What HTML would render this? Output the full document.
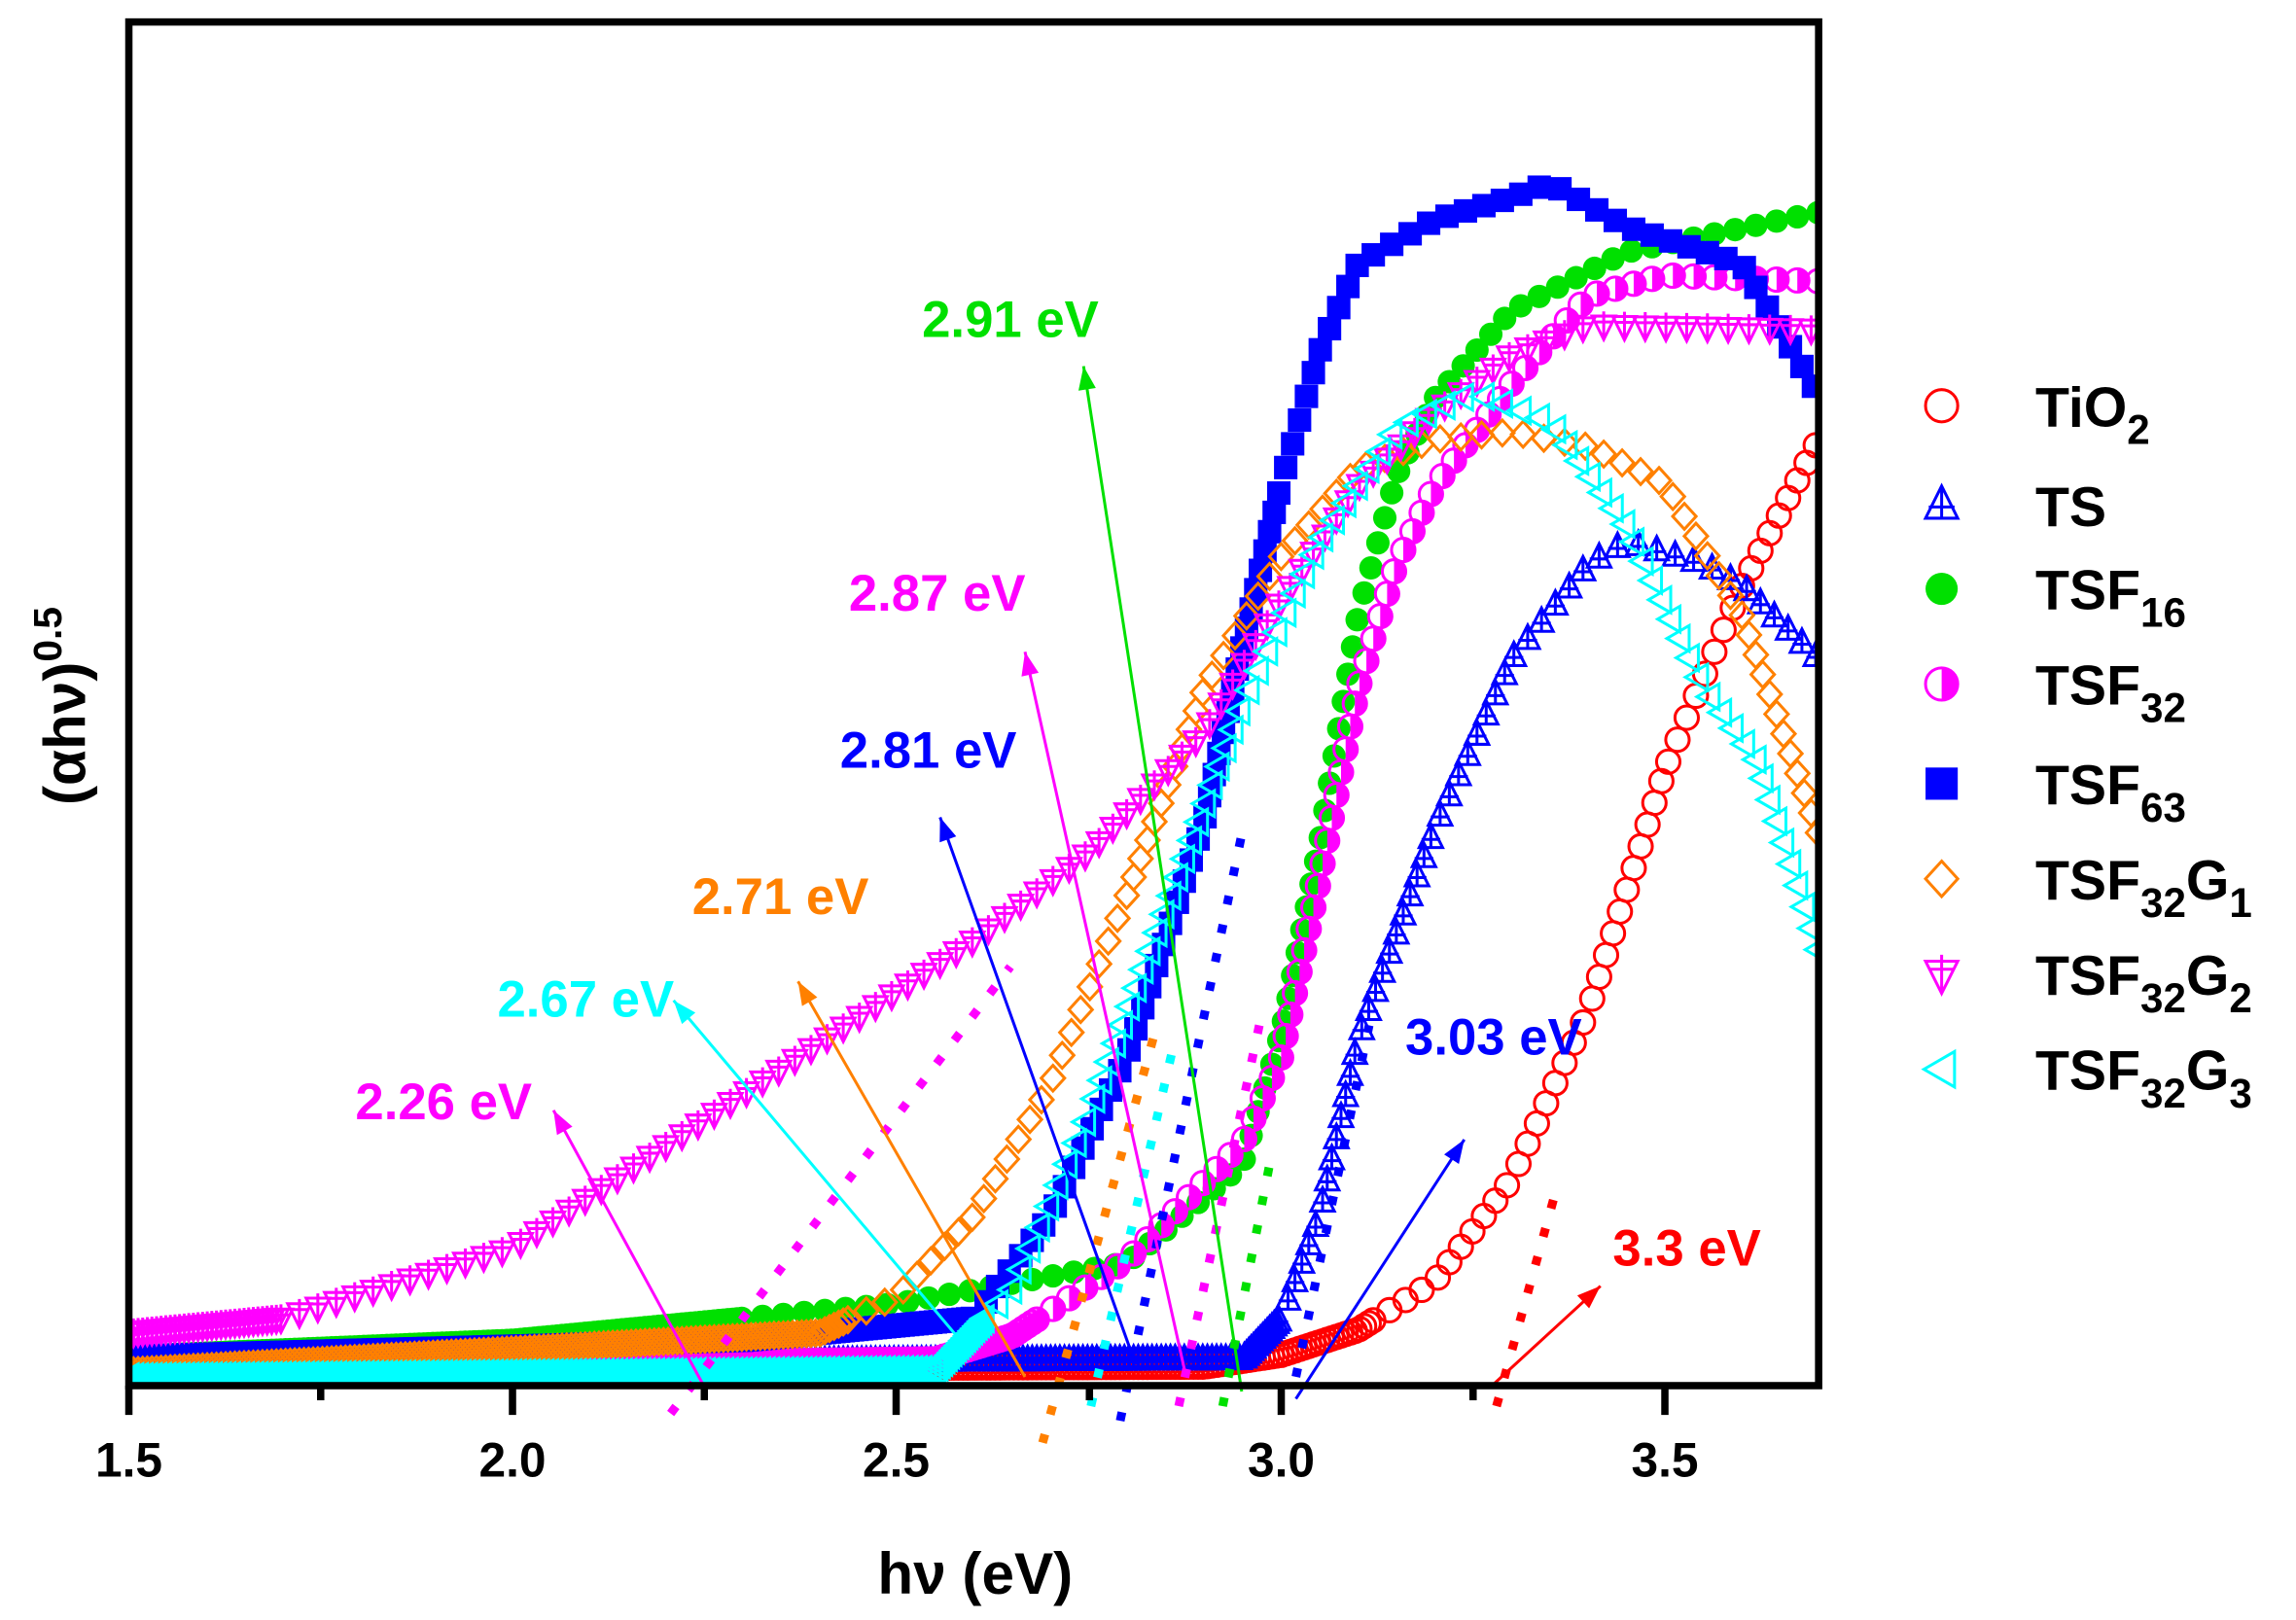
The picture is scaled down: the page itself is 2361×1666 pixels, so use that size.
<!DOCTYPE html>
<html><head><meta charset="utf-8"><style>
html,body{margin:0;padding:0;background:#fff;}
svg{display:block;font-family:"Liberation Sans",sans-serif;font-weight:bold;}
</style></head><body>
<svg id="s" width="2361" height="1666" viewBox="0 0 1568 1106" preserveAspectRatio="none" xmlns="http://www.w3.org/2000/svg">
<defs>
<clipPath id="c"><rect x="88" y="15" width="1154" height="931"/></clipPath>
</defs>
<g id="data" clip-path="url(#c)"></g>
<g id="ann"></g>
<rect x="88" y="15" width="1154" height="931" fill="none" stroke="#000" stroke-width="5"/>
<g stroke="#000" stroke-width="5">
<line x1="88" y1="946" x2="88" y2="966"/><line x1="350" y1="946" x2="350" y2="966"/><line x1="612" y1="946" x2="612" y2="966"/><line x1="875" y1="946" x2="875" y2="966"/><line x1="1137" y1="946" x2="1137" y2="966"/>
<line x1="219" y1="946" x2="219" y2="956"/><line x1="481" y1="946" x2="481" y2="956"/><line x1="744" y1="946" x2="744" y2="956"/><line x1="1006" y1="946" x2="1006" y2="956"/>
</g>
<g font-size="33" text-anchor="middle" fill="#000">
<text x="88" y="1008">1.5</text><text x="350" y="1008">2.0</text><text x="612" y="1008">2.5</text><text x="875" y="1008">3.0</text><text x="1137" y="1008">3.5</text>
</g>
<text x="666" y="1088" font-size="40" text-anchor="middle">hν (eV)</text>
<text transform="translate(58,482) rotate(-90)" font-size="40" text-anchor="middle">(αhν)<tspan dy="-16" font-size="27">0.5</tspan></text>
<g id="leg" font-size="38"></g>
</svg>
<script>
var NS="http://www.w3.org/2000/svg";
function X(e){return 88+(e-1.5)*524.6;}
function interp(pts,e){for(var i=0;i<pts.length-1;i++){if(e>=pts[i][0]&&e<=pts[i+1][0]){var t=(e-pts[i][0])/(pts[i+1][0]-pts[i][0]);return pts[i][1]+t*(pts[i+1][1]-pts[i][1]);}}return pts[pts.length-1][1];}
function el(tag,a,p){var e=document.createElementNS(NS,tag);for(var k in a)e.setAttribute(k,a[k]);(p||document.getElementById('data')).appendChild(e);return e;}
function marker(type,col,x,y,p,r){r=r||8;
 if(type=='circle')el('circle',{cx:x,cy:y,r:r,fill:'#fff','fill-opacity':0,stroke:col,'stroke-width':2},p);
 else if(type=='fcircle')el('circle',{cx:x,cy:y,r:r,fill:col},p);
 else if(type=='half'){el('circle',{cx:x,cy:y,r:r,fill:'none',stroke:col,'stroke-width':2},p);el('path',{d:'M'+x+','+(y-r)+' A'+r+','+r+' 0 0 1 '+x+','+(y+r)+' Z',fill:col},p);}
 else if(type=='square')el('rect',{x:x-r,y:y-r,width:2*r,height:2*r,fill:col},p);
 else if(type=='tri')el('path',{d:'M'+x+','+(y-r*1.2)+' L'+(x+r)+','+(y+r*0.8)+' L'+(x-r)+','+(y+r*0.8)+' Z M'+x+','+(y-r*1.2)+' V'+(y+r*0.8)+' M'+(x-r*0.8)+','+(y+r*0.1)+' H'+(x+r*0.8),fill:'none',stroke:col,'stroke-width':2},p);
 else if(type=='dtri')el('path',{d:'M'+x+','+(y+r*1.2)+' L'+(x+r)+','+(y-r*0.8)+' L'+(x-r)+','+(y-r*0.8)+' Z M'+x+','+(y+r*1.2)+' V'+(y-r*1.2)+' M'+(x-r*0.8)+','+(y-r*0.3)+' H'+(x+r*0.8),fill:'none',stroke:col,'stroke-width':2},p);
 else if(type=='diam')el('path',{d:'M'+x+','+(y-r*1.1)+' L'+(x+r)+','+y+' L'+x+','+(y+r*1.1)+' L'+(x-r)+','+y+' Z',fill:'none',stroke:col,'stroke-width':2},p);
 else if(type=='ltri')el('path',{d:'M'+(x-r*1.1)+','+y+' L'+(x+r*0.8)+','+(y-r*1.1)+' L'+(x+r*0.8)+','+(y+r*1.1)+' Z',fill:'none',stroke:col,'stroke-width':2},p);
}
var S=[
 ['circle','#ff0000',[[1.5,936],[2.9,933],[3.0,925],[3.1,908],[3.2,875],[3.3,805],[3.4,690],[3.5,525],[3.6,400],[3.7,300]]],
 ['tri','#0000ff',[[1.5,932],[2.95,928],[3.0,900],[3.05,830],[3.1,710],[3.2,565],[3.3,450],[3.4,385],[3.45,370],[3.55,385],[3.6,400],[3.7,450]]],
 ['fcircle','#00e000',[[1.5,926],[2.0,915],[2.5,890],[2.8,862],[2.95,795],[3.0,705],[3.05,575],[3.1,420],[3.15,325],[3.2,272],[3.3,212],[3.45,172],[3.7,145]]],
 ['half','#ff00ff',[[1.5,935],[2.55,928],[2.65,912],[2.8,860],[2.95,780],[3.0,722],[3.05,600],[3.1,470],[3.15,385],[3.2,332],[3.3,262],[3.4,202],[3.5,188],[3.7,192]]],
 ['square','#0000ff',[[1.5,926],[2.3,915],[2.6,900],[2.7,830],[2.8,720],[2.9,560],[2.95,440],[3.0,330],[3.05,240],[3.1,180],[3.2,150],[3.3,135],[3.35,125],[3.45,155],[3.6,180],[3.7,270]]],
 ['diam','#ff8000',[[1.5,936],[2.4,910],[2.5,885],[2.6,830],[2.7,740],[2.8,610],[2.9,470],[3.0,380],[3.1,320],[3.2,300],[3.3,295],[3.4,305],[3.5,330],[3.6,420],[3.7,570]]],
 ['dtri','#ff00ff',[[1.5,910],[1.7,900],[2.0,852],[2.2,782],[2.4,712],[2.6,642],[2.75,582],[2.9,500],[3.0,410],[3.1,332],[3.2,282],[3.3,242],[3.4,222],[3.7,225]]],
 ['ltri','#00ffff',[[1.5,940],[2.55,935],[2.65,880],[2.75,760],[2.85,620],[2.95,480],[3.05,370],[3.15,292],[3.25,268],[3.35,288],[3.45,360],[3.55,470],[3.62,520],[3.7,650]]]
];
S.forEach(function(s){
 var prev=null;
 for(var e=1.5;e<=3.72;e+=0.003){var x=X(e),y=interp(s[2],e);
  if(prev&&Math.hypot(x-prev[0],y-prev[1])<(y>900?2:13))continue;
  marker(s[0],s[1],x,y);prev=[x,y];}
});
var A=document.getElementById('ann');
var dots=[['#ff00ff',458,965,690,660],['#ff8000',712,985,790,700],['#0000ff',765,970,850,560],['#00ffff',745,960,800,720],['#ff00ff',805,960,860,700],['#00e000',835,960,868,790],['#0000ff',885,940,935,700],['#ff0000',1022,960,1062,815]];
dots.forEach(function(d){el('line',{x1:d[1],y1:d[2],x2:d[3],y2:d[4],stroke:d[0],'stroke-width':6,'stroke-dasharray':'6 14'},A);});
var arr=[['#00e000',848,950,740,250,'2.91 eV',690,230],['#ff00ff',810,940,700,445,'2.87 eV',640,417],['#0000ff',775,930,642,558,'2.81 eV',634,524],['#ff8000',700,940,545,670,'2.71 eV',533,624],['#00ffff',660,920,460,683,'2.67 eV',400,694],['#ff00ff',480,945,378,758,'2.26 eV',303,764],['#0000ff',885,955,1000,778,'3.03 eV',1020,720],['#ff0000',1020,945,1093,878,'3.3 eV',1152,864]];
arr.forEach(function(a){
 el('line',{x1:a[1],y1:a[2],x2:a[3],y2:a[4],stroke:a[0],'stroke-width':2},A);
 var ang=Math.atan2(a[4]-a[2],a[3]-a[1]),L=16,W=6,x=a[3],y=a[4];
 var bx=x-L*Math.cos(ang),by=y-L*Math.sin(ang);
 el('path',{d:'M'+x+','+y+' L'+(bx+W*Math.sin(ang))+','+(by-W*Math.cos(ang))+' L'+(bx-W*Math.sin(ang))+','+(by+W*Math.cos(ang))+' Z',fill:a[0]},A);
 var t=el('text',{x:a[6],y:a[7],fill:a[0],'font-size':35,'text-anchor':'middle'},A);t.textContent=a[5];
});
var L=document.getElementById('leg');
var leg=[['circle','#ff0000','TiO','2',''],['tri','#0000ff','TS','',''],['fcircle','#00e000','TSF','16',''],['half','#ff00ff','TSF','32',''],['square','#0000ff','TSF','63',''],['diam','#ff8000','TSF','32','G','1'],['dtri','#ff00ff','TSF','32','G','2'],['ltri','#00ffff','TSF','32','G','3']];
var ys=[277,345,402,467,535,600,665,730];
leg.forEach(function(l,i){var y=ys[i];marker(l[0],l[1],1326,y,L,11);
 var t=el('text',{x:1390,y:y+14,fill:'#000'},L);
 var h=l[2];if(l[3])h+='<tspan dy="12" font-size="28">'+l[3]+'</tspan>';
 if(l[4])h+='<tspan dy="-12">'+l[4]+'</tspan><tspan dy="12" font-size="28">'+l[5]+'</tspan>';
 t.innerHTML=h;});
</script>
</body></html>
